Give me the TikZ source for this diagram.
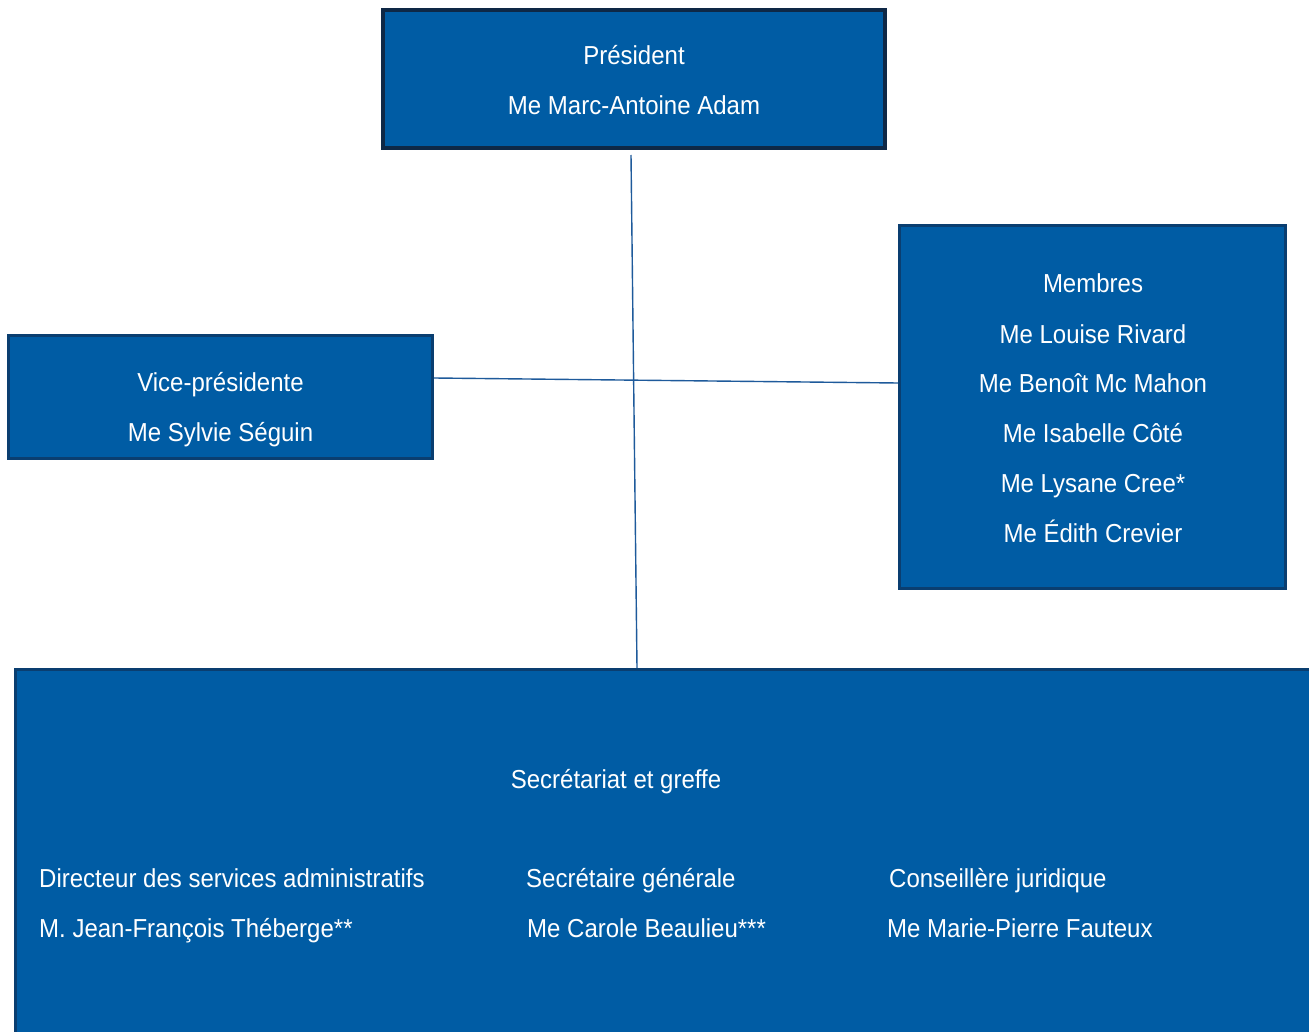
\documentclass[tikz,border=0pt]{standalone}
\usepackage{fontspec}
\setmainfont[FakeStretch=0.923]{Liberation Sans}
\definecolor{boxfill}{RGB}{0,92,164}
\definecolor{darkedge}{RGB}{14,40,70}
\definecolor{edge}{RGB}{10,62,112}
\definecolor{wire}{RGB}{30,90,155}
\begin{document}
\begin{tikzpicture}[x=1pt,y=-1pt,
  orgbox/.style={draw=edge,line width=3pt,fill=boxfill,rectangle,inner sep=0pt},
  lbl/.style={text=white,anchor=base,inner sep=0pt,font=\fontsize{26}{30}\selectfont},
  lblw/.style={text=white,anchor=base west,inner sep=0pt,font=\fontsize{26}{30}\selectfont},
  wireline/.style={draw=wire,line width=1.4pt}]
\useasboundingbox[fill=white] (0,0) rectangle (1309,1032);
% boxes
\node[orgbox,draw=darkedge,line width=4pt,minimum width=502pt,minimum height=138pt] (pres) at (634,79) {};
\node[orgbox,minimum width=424pt,minimum height=123pt] (vp) at (220.5,397) {};
\node[orgbox,minimum width=386pt,minimum height=363pt] (mem) at (1092.5,407) {};
\node[orgbox,minimum width=1320pt,minimum height=400pt] (sec) at (675.5,869.5) {};
% connectors
\draw[wireline] ([xshift=-3pt,yshift=-5pt]pres.south) -- ([xshift=-38.5pt]sec.north);
\draw[wireline] ([yshift=19pt]vp.east) -- ([yshift=24pt]mem.west);
% texts
\node[lbl] (t1) at (634,65) {Président};
\node[lbl] (t2) at (634,115) {Me Marc-Antoine Adam};
\node[lbl] (t3) at (220.5,391) {Vice-présidente};
\node[lbl] (t4) at (220.5,441) {Me Sylvie Séguin};
\node[lbl] (m1) at (1093,293) {Membres};
\node[lbl] (m2) at (1093,343) {Me Louise Rivard};
\node[lbl] (m3) at (1093,392) {Me Benoît Mc Mahon};
\node[lbl] (m4) at (1093,442) {Me Isabelle Côté};
\node[lbl] (m5) at (1093,492) {Me Lysane Cree*};
\node[lbl] (m6) at (1093,542) {Me Édith Crevier};
\node[lbl] (s0) at (616,788) {Secrétariat et greffe};
\node[lblw] (s1) at (39,887) {Directeur des services administratifs};
\node[lblw] (s2) at (39,937) {M. Jean-François Théberge**};
\node[lblw] (s3) at (526,887) {Secrétaire générale};
\node[lblw] (s4) at (527,937) {Me Carole Beaulieu***};
\node[lblw] (s5) at (889,887) {Conseillère juridique};
\node[lblw] (s6) at (887,937) {Me Marie-Pierre Fauteux};
\end{tikzpicture}
\end{document}
